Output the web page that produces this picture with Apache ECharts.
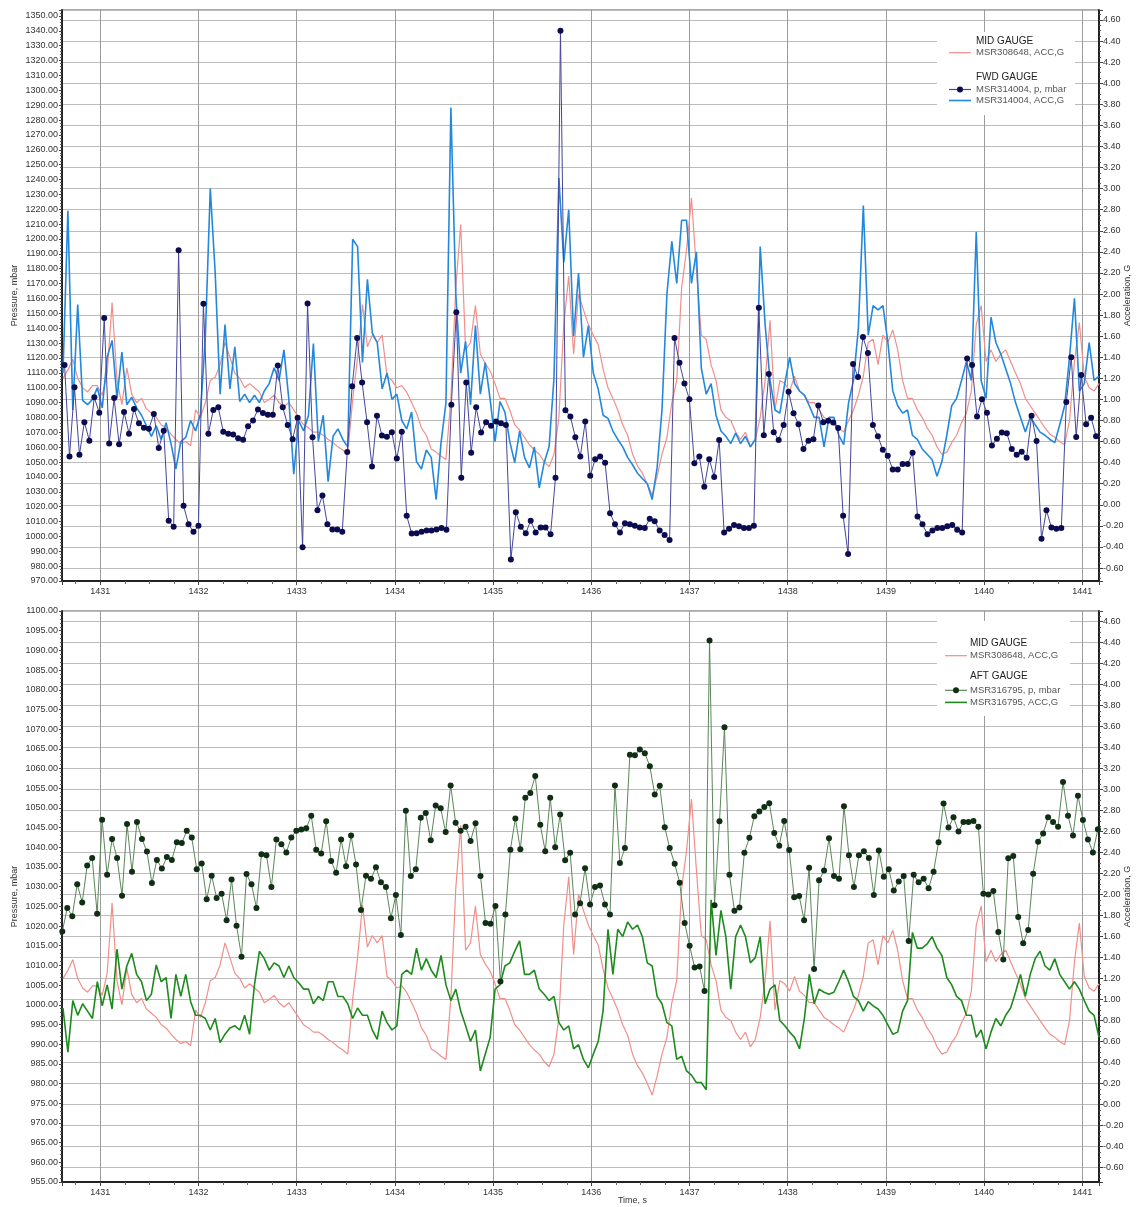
<!DOCTYPE html>
<html lang="en">
<head>
<meta charset="UTF-8"/>
<style>
    html, body { margin: 0; padding: 0; background: #fff; }
    #main { width: 1136px; height: 1207px; }
</style>
</head>
<body>

<div id="main"></div>

<script src="https://cdn.jsdelivr.net/npm/echarts@6/dist/echarts.min.js"></script>
<script type="text/javascript">

// sampling of the recorded channels (time in s)
var ACC_T0 = 1430.62, ACC_DT = 0.05;
var FWD_T0 = 1430.636, FWD_DT = 0.0505;
var AFT_T0 = 1430.613, AFT_DT = 0.0507;

var TIME_TICKS = [1431, 1432, 1433, 1434, 1435, 1436, 1437, 1438, 1439, 1440, 1441];

// MSR308648, ACC,G  (mid gauge, shown in both charts)
var MID_ACC = [
    1.20, 1.28, 1.38, 1.20, 1.11, 1.07, 1.13, 1.13, 1.04, 1.25,
    1.92, 1.18, 0.95, 1.30, 1.05, 0.97, 1.01, 0.91, 0.87, 0.83,
    0.76, 0.73, 0.67, 0.62, 0.58, 0.60, 0.56, 0.90, 0.83, 0.97,
    1.18, 1.21, 1.33, 1.54, 1.40, 1.25, 1.20, 1.11, 1.15, 1.11,
    1.07, 0.97, 1.00, 1.04, 0.97, 0.93, 0.97, 0.90, 0.83, 0.76,
    0.73, 0.69, 0.69, 0.66, 0.62, 0.59, 0.55, 0.52, 0.48, 1.00,
    1.40, 1.90, 1.50, 1.61, 1.54, 1.61, 1.22, 1.18, 1.11, 1.13,
    1.07, 0.97, 0.87,
    0.73, 0.66, 0.53, 0.50, 0.46, 0.43, 1.01, 2.06, 2.66, 1.47,
    1.54, 1.89, 1.43, 1.34, 1.27, 1.15, 1.01, 1.01, 0.90, 0.76,
    0.71, 0.64, 0.57, 0.52, 0.48, 0.41, 0.36, 0.48, 0.83, 1.71,
    2.17, 1.43, 2.00, 1.85, 1.71, 1.61, 1.52, 1.29, 1.11, 1.01,
    0.90, 0.76, 0.66, 0.48, 0.37, 0.30, 0.20, 0.09, 0.27, 0.48,
    0.64, 0.97, 1.18, 2.06, 2.42, 2.91, 2.24, 1.61, 1.57, 1.33,
    1.18, 0.90, 0.83, 0.80, 0.69, 0.62, 0.69, 0.55, 0.62,
    0.83, 1.18, 1.75, 0.90, 1.18, 1.15, 1.08, 1.22, 1.08, 1.04,
    0.97, 0.97, 0.90, 0.83, 0.80, 0.76, 0.73, 0.69, 0.80, 0.90,
    1.04, 1.22, 1.54, 1.57, 1.33, 1.61, 1.54, 1.66, 1.47, 1.18,
    1.01, 1.01, 0.90, 0.83, 0.73, 0.66, 0.55, 0.48, 0.50, 0.59,
    0.66, 0.78, 0.87, 1.08, 1.71, 1.89, 1.36, 1.47, 1.36, 1.43,
    1.47, 1.36, 1.25, 1.15, 1.01, 0.94, 0.87, 0.80, 0.73, 0.67,
    0.64, 0.60, 0.57, 0.80, 1.36, 1.73, 1.22, 1.11, 1.08, 1.15
];

// MSR314004, ACC,G  (fwd gauge)
var FWD_ACC = [
    1.25, 2.79, 0.90, 1.90, 0.99, 0.95, 1.00, 1.11, 0.92, 1.40,
    1.56, 1.01, 1.45, 0.95, 1.02, 0.92, 0.85, 0.75, 0.65, 0.75,
    0.62, 0.78, 0.58, 0.34, 0.60, 0.64, 0.80, 0.70, 0.86, 1.60,
    3.00, 2.20, 1.05, 1.71, 1.10, 1.50, 0.98, 1.05, 0.97, 1.04,
    0.97, 1.08, 1.15, 1.30, 1.18, 1.47, 1.00, 0.29, 0.80, 0.70,
    0.85, 1.53, 0.60, 0.85, 0.22, 0.65, 0.72, 0.62, 0.55, 2.52,
    2.45, 1.35, 2.14, 1.63, 1.54, 1.10, 1.25, 1.00, 1.05, 0.80,
    0.72, 0.88, 0.41,
    0.34, 0.52, 0.45, 0.05, 0.59, 0.97, 3.77, 2.00, 1.25, 1.55,
    0.95, 1.70, 1.05, 1.35, 1.00, 0.60, 0.98, 0.88, 0.60, 0.40,
    0.70, 0.45, 0.35, 0.55, 0.16, 0.40, 0.55, 1.20, 3.10, 2.30,
    2.80, 1.60, 2.20, 1.40, 1.70, 1.25, 1.10, 0.85, 0.82, 0.70,
    0.62, 0.55, 0.45, 0.38, 0.30, 0.25, 0.20, 0.05, 0.35, 0.90,
    2.00, 2.50, 2.10, 2.70, 2.70, 2.10, 2.40, 1.30, 1.05, 1.15,
    0.85, 0.70, 0.65, 0.58, 0.68, 0.58, 0.65, 0.55, 0.62,
    2.45, 1.71, 1.18, 0.90, 0.87, 1.15, 1.40, 1.15, 1.08, 1.04,
    0.94, 0.83, 0.83, 0.55, 0.83, 0.83, 0.66, 0.57, 0.97, 1.18,
    1.68, 2.84, 1.61, 1.89, 1.85, 1.89, 1.54, 1.08, 0.94, 0.87,
    0.90, 0.66, 0.62, 0.53, 0.48, 0.43, 0.27, 0.41, 0.66, 0.94,
    1.01, 1.18, 1.36, 1.18, 2.59, 1.18, 1.01, 1.78, 1.54, 1.43,
    1.29, 1.15, 0.97, 0.83, 0.69, 0.83, 0.76, 0.69, 0.66, 0.62,
    0.59, 0.76, 0.94, 1.40, 1.96, 1.08, 1.15, 1.54, 1.18, 1.22
];

// MSR314004, p, mbar
var FWD_P = [
    1115.2, 1053.7, 1100.3, 1054.9, 1076.8, 1064.4, 1093.5, 1083.1, 1146.8, 1062.4,
    1093.0, 1061.9, 1083.6, 1069.1, 1085.6, 1076.1, 1073.1, 1072.4, 1082.3, 1059.4,
    1071.1, 1010.6, 1006.4, 1192.4, 1020.6, 1008.1, 1003.1, 1007.1, 1156.5, 1069.1,
    1085.0, 1086.8, 1070.4, 1069.0, 1068.6, 1066.0, 1065.0, 1074.1, 1078.0, 1085.3,
    1083.0, 1081.8, 1081.8, 1115.0, 1086.8, 1074.9, 1065.4, 1079.8, 992.7, 1156.7,
    1066.6, 1017.6, 1027.5, 1008.1, 1004.6, 1004.6, 1003.1, 1056.7, 1101.0, 1133.4,
    1103.5, 1076.8, 1047.0, 1081.1, 1067.9, 1067.0, 1070.0, 1052.4, 1070.4, 1013.8,
    1001.9, 1002.1, 1003.1, 1003.9, 1003.9, 1004.6, 1005.6, 1004.4, 1088.6, 1150.8,
    1039.5, 1103.5, 1056.2, 1086.8, 1069.9, 1076.8, 1074.4, 1077.3, 1076.1, 1074.9,
    984.4, 1016.3, 1006.4, 1002.1, 1010.6, 1002.6, 1005.9, 1005.9, 1001.4, 1039.5,
    1340.1, 1084.8, 1080.6, 1066.6, 1053.7, 1077.3, 1040.7, 1051.9, 1053.7, 1049.5,
    1015.6, 1008.1, 1002.6, 1008.9, 1008.1, 1007.1, 1005.9, 1005.6, 1011.8, 1010.1,
    1003.9, 1000.9, 997.6, 1133.4, 1116.7, 1102.8, 1092.3, 1049.2, 1053.7, 1033.3,
    1051.9, 1040.0, 1064.9, 1002.6, 1005.1, 1007.6, 1006.9, 1005.6, 1005.6, 1007.1,
    1153.8, 1068.1, 1109.2, 1070.0, 1064.9, 1074.9, 1097.3, 1082.8, 1075.4, 1058.7,
    1064.4, 1065.4, 1088.1, 1076.8, 1077.8, 1076.6, 1072.9, 1013.8, 988.2, 1116.0,
    1107.2, 1134.1, 1123.4, 1074.9, 1067.4, 1058.2, 1054.2, 1045.0, 1045.0, 1048.7,
    1048.7, 1056.2, 1013.3, 1008.1, 1001.4, 1003.9, 1005.6, 1005.6, 1006.9, 1007.6,
    1004.4, 1002.6, 1119.7, 1115.2, 1080.6, 1092.3, 1083.1, 1061.2, 1065.6, 1069.9,
    1069.4, 1058.7, 1054.9, 1056.9, 1052.9, 1081.1, 1064.1, 998.4, 1017.6, 1005.9,
    1005.1, 1005.6, 1090.3, 1120.4, 1066.9, 1108.5, 1075.4, 1079.8, 1067.4
];

// MSR316795, ACC,G  (aft gauge)
var AFT_ACC = [
    0.92, 0.50, 0.99, 0.85, 0.96, 0.89, 0.82, 1.17, 0.94, 1.14,
    0.91, 1.48, 1.10, 1.32, 1.44, 1.24, 1.17, 0.99, 1.05, 1.33,
    1.17, 1.21, 0.82, 1.24, 1.03, 1.24, 0.98, 0.85, 0.85, 0.82,
    0.71, 0.82, 0.59, 0.67, 0.73, 0.75, 0.71, 0.85, 0.67, 1.14,
    1.46, 1.39, 1.28, 1.35, 1.32, 1.21, 1.32, 1.21, 1.16, 1.10,
    1.10, 0.96, 1.03, 0.99, 1.17, 1.17, 1.03, 1.03, 0.96, 0.82,
    0.92, 0.85, 0.85, 0.71, 0.62, 0.89, 0.78, 0.71, 0.75, 1.24,
    1.28, 1.24, 1.49,
    1.28, 1.39, 1.28, 1.21, 1.42, 1.14, 0.99, 1.10, 0.89, 0.75,
    0.60, 0.71, 0.32, 0.48, 0.64, 1.10, 1.14, 1.32, 1.35, 1.46,
    1.56, 1.24, 1.24, 1.28, 1.10, 1.05, 0.99, 1.03, 0.78, 0.71,
    0.75, 0.53, 0.57, 0.43, 0.35, 0.48, 0.60, 0.89, 1.67, 1.24,
    1.67, 1.60, 1.74, 1.67, 1.71, 1.60, 1.35, 1.32, 1.03, 0.96,
    0.78, 0.75, 0.43, 0.46, 0.32, 0.28, 0.21, 0.21, 0.14, 1.95,
    1.42, 1.85, 1.60, 1.10, 1.60, 1.71, 1.60, 1.35, 1.40,
    1.60, 0.96, 1.10, 1.14, 0.80, 0.75, 0.69, 0.64, 0.53, 0.82,
    1.24, 0.96, 1.10, 1.07, 1.05, 1.07, 1.17, 1.28, 1.17, 1.03,
    0.99, 0.89, 0.98, 0.94, 0.91, 0.85, 0.76, 0.67, 0.69, 0.89,
    0.99, 1.64, 1.49, 1.49, 1.53, 1.60, 1.49, 1.42, 1.21, 1.14,
    1.03, 0.99, 0.85, 0.85, 0.64, 0.71, 0.53, 0.69, 0.82, 0.75,
    0.85, 0.92, 1.07, 1.24, 1.03, 1.24, 1.39, 1.46, 1.32, 1.28,
    1.39, 1.24, 1.17, 1.10, 1.17, 1.10, 0.99, 0.89, 0.85, 0.64
];

// MSR316795, p, mbar
var AFT_P = [
    1018.6, 1024.6, 1022.5, 1030.6, 1026.0, 1035.4, 1037.3, 1023.1, 1047.0, 1033.0,
    1042.1, 1037.3, 1027.7, 1045.9, 1033.8, 1046.4, 1042.1, 1038.9, 1030.9, 1036.8,
    1034.6, 1037.5, 1036.8, 1041.3, 1041.1, 1044.2, 1042.5, 1034.4, 1035.9, 1026.8,
    1032.8, 1027.1, 1028.2, 1021.5, 1031.8, 1020.1, 1012.2, 1033.2, 1030.6, 1024.6,
    1038.2, 1038.0, 1029.9, 1042.0, 1040.8, 1038.7, 1042.5, 1044.2, 1044.5, 1044.8,
    1048.0, 1039.4, 1038.4, 1046.6, 1036.5, 1033.5, 1042.0, 1035.2, 1043.0, 1035.6,
    1024.1, 1032.8, 1032.0, 1034.9, 1031.1, 1029.9, 1022.0, 1027.9, 1017.7, 1049.3,
    1032.7, 1034.4, 1047.5, 1048.7, 1041.8, 1050.6, 1049.9, 1043.9, 1055.7, 1046.2,
    1044.2, 1045.2, 1041.6, 1046.1, 1032.7, 1020.8, 1020.6, 1025.1, 1005.9, 1022.9,
    1039.4, 1047.3, 1039.5, 1052.6, 1053.8, 1058.1, 1045.7, 1039.0, 1052.6, 1040.0,
    1048.3, 1036.7, 1038.6, 1022.9, 1025.8, 1034.7, 1025.5, 1029.9, 1030.3, 1025.5,
    1022.9, 1055.7, 1036.0, 1039.8, 1063.5, 1063.4, 1064.8, 1063.9, 1060.6, 1053.4,
    1055.6, 1045.1, 1039.8, 1035.8, 1031.0, 1020.8, 1015.0, 1009.5, 1009.7, 1003.5,
    1092.5, 1025.3, 1046.6, 1070.5, 1033.0, 1023.9, 1024.7, 1038.6, 1042.4, 1047.9,
    1049.1, 1050.2, 1051.2, 1043.6, 1040.4, 1046.7, 1039.3, 1027.3, 1027.6, 1021.5,
    1034.8, 1009.1, 1031.6, 1034.1, 1042.3, 1032.7, 1032.0, 1050.4, 1038.0, 1029.9,
    1038.0, 1039.0, 1037.3, 1027.9, 1039.2, 1032.5, 1034.4, 1029.0, 1031.3, 1032.7,
    1016.2, 1033.0, 1031.1, 1032.0, 1029.6, 1033.8, 1041.3, 1051.1, 1045.0, 1047.6,
    1044.0, 1046.4, 1046.4, 1046.7, 1045.2, 1028.2, 1028.0, 1028.9, 1018.5, 1011.5,
    1037.2, 1037.8, 1022.3, 1015.6, 1019.0, 1033.3, 1041.4, 1043.5, 1047.6, 1046.4,
    1045.2, 1056.6, 1048.0, 1043.0, 1053.1, 1046.9, 1042.0, 1038.7, 1044.6
];

var TOP_LEGEND = ['MID GAUGE', 'MSR308648, ACC,G', 'FWD GAUGE', 'MSR314004, p, mbar', 'MSR314004, ACC,G'];
var BOTTOM_LEGEND = ['MID GAUGE', 'MSR308648, ACC,G', 'AFT GAUGE', 'MSR316795, p, mbar', 'MSR316795, ACC,G'];

var FONT = '"Liberation Sans", Arial, sans-serif';
var C_MID = '#f08f8a', C_FWD_ACC = '#2288dd', C_FWD_P = '#0b0b50', C_FWD_PL = '#45459a';
var C_AFT_ACC = '#1d8a1d', C_AFT_P = '#0f2e14', C_AFT_PL = '#5a875a';

function toPairs(t0, dt, vals) {
    return vals.map(function (v, i) { return [+(t0 + i * dt).toFixed(4), v]; });
}

function fmt2(v) { return v.toFixed(2); }

function timeLabel(v) {
    var r = Math.round(v);
    if (Math.abs(v - r) > 1e-6 || TIME_TICKS.indexOf(r) < 0) return '';
    return String(r);
}

var labelStyle = { fontSize: 9, color: '#333', fontFamily: FONT };

function xAxisFor(g) {
    return {
        type: 'value', gridIndex: g, min: 1430.61, max: 1441.17, splitNumber: 10,
        axisLine: { show: true, onZero: false, lineStyle: { color: '#222', width: 2 } },
        axisTick: { show: true, length: 4, lineStyle: { color: '#444' } },
        minorTick: { show: true, splitNumber: 4, length: 3, lineStyle: { color: '#666' } },
        axisLabel: Object.assign({ showMinLabel: false, showMaxLabel: false, margin: 6, formatter: timeLabel }, labelStyle),
        splitLine: { show: true, lineStyle: { color: '#9c9c9c', width: 1 } },
        name: g === 1 ? 'Time, s' : '',
        nameLocation: 'middle', nameGap: 14, nameMoveOverlap: false,
        nameTextStyle: { fontSize: 9, color: '#333', fontFamily: FONT, padding: [0, 0, 0, 104] }
    };
}

function pressureAxis(g, min, max, step) {
    return {
        type: 'value', gridIndex: g, position: 'left', min: min, max: max, interval: step,
        axisLine: { show: true, onZero: false, lineStyle: { color: '#222', width: 2 } },
        axisTick: { show: true, length: 3, lineStyle: { color: '#444' } },
        minorTick: { show: true, splitNumber: 5, length: 2, lineStyle: { color: '#555' } },
        axisLabel: Object.assign({ showMaxLabel: max % step === 0, margin: 4, formatter: fmt2 }, labelStyle),
        splitLine: { show: false },
        name: 'Pressure, mbar', nameLocation: 'middle', nameGap: 43, nameRotate: 90, nameMoveOverlap: false,
        nameTextStyle: { fontSize: 9, color: '#333', fontFamily: FONT }
    };
}

function accAxis(g, min, max) {
    return {
        type: 'value', gridIndex: g, position: 'right', min: min, max: max, splitNumber: 27,
        axisLine: { show: true, onZero: false, lineStyle: { color: '#222', width: 2 } },
        axisTick: { show: true, length: 4, lineStyle: { color: '#444' } },
        minorTick: { show: true, splitNumber: 4, length: 2, lineStyle: { color: '#555' } },
        axisLabel: Object.assign({ showMinLabel: false, showMaxLabel: false, margin: 4, formatter: fmt2 }, labelStyle),
        splitLine: { show: true, lineStyle: { color: '#bcbcbc', width: 1.2 } },
        name: 'Acceleration, G', nameLocation: 'middle', nameGap: 24, nameRotate: 90, nameMoveOverlap: false,
        nameTextStyle: { fontSize: 9, color: '#333', fontFamily: FONT }
    };
}

function legendBlock(texts, box, tx, lx, ys, colors, dotColor) {
    var els = [];
    els.push({ type: 'rect', z: 10, shape: box, style: { fill: '#fff' } });
    [0, 2].forEach(function (k) {
        els.push({ type: 'text', z: 11, x: tx, y: ys[k],
            style: { text: texts[k], fill: '#222', font: '10px ' + FONT, verticalAlign: 'middle' } });
    });
    [1, 3, 4].forEach(function (k, j) {
        els.push({ type: 'line', z: 11, shape: { x1: lx, y1: ys[k], x2: lx + 22, y2: ys[k] },
            style: { stroke: colors[j], lineWidth: j === 2 ? 1.6 : 1.2 } });
        els.push({ type: 'text', z: 11, x: tx, y: ys[k],
            style: { text: texts[k], fill: '#555', font: '9.5px ' + FONT, verticalAlign: 'middle' } });
    });
    els.push({ type: 'circle', z: 12, shape: { cx: lx + 11, cy: ys[3], r: 3 }, style: { fill: dotColor } });
    return els;
}

var myChart = echarts.init(document.getElementById('main'));

var options = {
    animation: false,
    backgroundColor: '#fff',
    grid: [
        { left: 62, top: 10, width: 1037, height: 571, show: true, borderColor: '#555', borderWidth: 1,
          containLabel: false, outerBoundsMode: 'none' },
        { left: 62, top: 611, width: 1037, height: 571, show: true, borderColor: '#555', borderWidth: 1,
          containLabel: false, outerBoundsMode: 'none' }
    ],
    xAxis: [xAxisFor(0), xAxisFor(1)],
    yAxis: [
        pressureAxis(0, 970, 1354, 10),
        accAxis(0, -0.723, 4.695),
        pressureAxis(1, 955, 1100, 5),
        accAxis(1, -0.738, 4.702)
    ],
    series: [
        { name: 'MSR308648, ACC,G', type: 'line', xAxisIndex: 0, yAxisIndex: 1, z: 2,
          data: toPairs(ACC_T0, ACC_DT, MID_ACC), symbol: 'none',
          lineStyle: { color: C_MID, width: 1.2 } },
        { name: 'MSR314004, ACC,G', type: 'line', xAxisIndex: 0, yAxisIndex: 1, z: 3,
          data: toPairs(ACC_T0, ACC_DT, FWD_ACC), symbol: 'none',
          lineStyle: { color: C_FWD_ACC, width: 1.6 } },
        { name: 'MSR314004, p, mbar', type: 'line', xAxisIndex: 0, yAxisIndex: 0, z: 4,
          data: toPairs(FWD_T0, FWD_DT, FWD_P), symbol: 'circle', symbolSize: 6,
          itemStyle: { color: C_FWD_P }, lineStyle: { color: C_FWD_PL, width: 1 } },

        { name: 'MSR308648, ACC,G ', type: 'line', xAxisIndex: 1, yAxisIndex: 3, z: 2,
          data: toPairs(ACC_T0, ACC_DT, MID_ACC), symbol: 'none',
          lineStyle: { color: C_MID, width: 1.2 } },
        { name: 'MSR316795, ACC,G', type: 'line', xAxisIndex: 1, yAxisIndex: 3, z: 3,
          data: toPairs(ACC_T0, ACC_DT, AFT_ACC), symbol: 'none',
          lineStyle: { color: C_AFT_ACC, width: 1.6 } },
        { name: 'MSR316795, p, mbar', type: 'line', xAxisIndex: 1, yAxisIndex: 2, z: 4,
          data: toPairs(AFT_T0, AFT_DT, AFT_P), symbol: 'circle', symbolSize: 6,
          itemStyle: { color: C_AFT_P }, lineStyle: { color: C_AFT_PL, width: 1 } }
    ],
    graphic: {
        elements: [].concat(
            legendBlock(TOP_LEGEND, { x: 937, y: 32, width: 138, height: 83 }, 976, 949,
                [41.5, 52.7, 77.5, 89.5, 100.5], [C_MID, C_FWD_PL, C_FWD_ACC], C_FWD_P),
            legendBlock(BOTTOM_LEGEND, { x: 937, y: 621, width: 133, height: 95 }, 970, 945,
                [643.5, 655.7, 676, 690.3, 702.4], [C_MID, C_AFT_PL, C_AFT_ACC], C_AFT_P)
        )
    }
};

myChart.setOption(options);

</script>

</body>
</html>
